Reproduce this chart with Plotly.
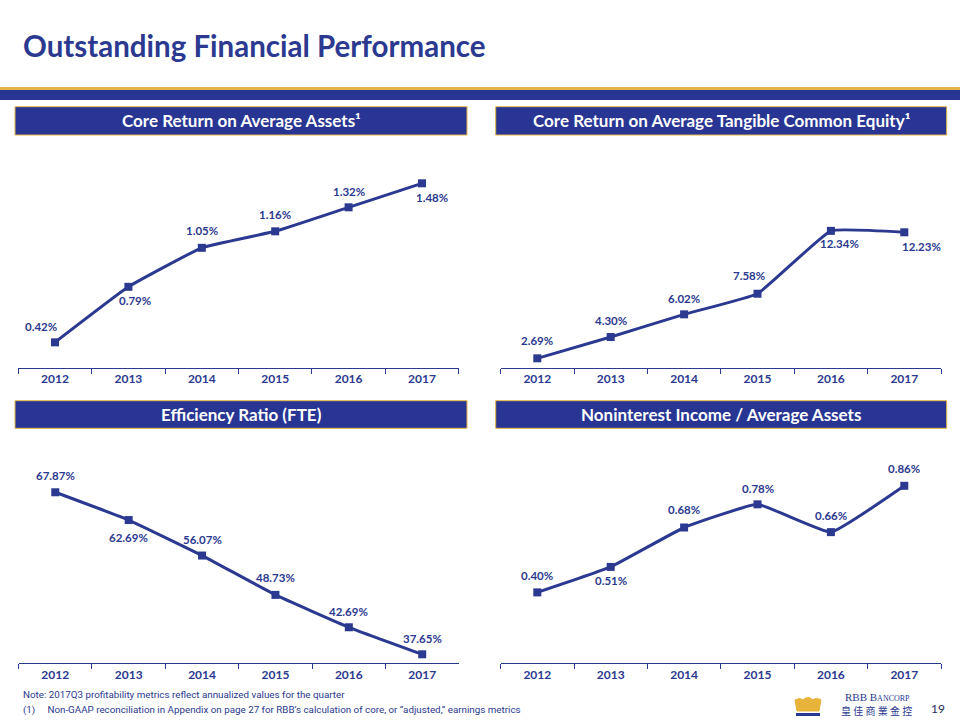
import plotly.graph_objects as go

years = ["2012", "2013", "2014", "2015", "2016", "2017"]
roaa = [0.42, 0.79, 1.05, 1.16, 1.32, 1.48]
roatce = [2.69, 4.30, 6.02, 7.58, 12.34, 12.23]
efficiency = [67.87, 62.69, 56.07, 48.73, 42.69, 37.65]
nonint = [0.40, 0.51, 0.68, 0.78, 0.66, 0.86]

titles = ["Core Return on Average Assets\u00b9",
          "Core Return on Average Tangible Common Equity\u00b9",
          "Efficiency Ratio (FTE)",
          "Noninterest Income / Average Assets"]

NAVY = "#2B3990"
FILL = "#283593"
GOLD = "#E3B547"
W, H = 960, 720

# label offsets (px) per point: (dx, dy) dy positive = up
offsets = [
    [(-14, 16), (7, -14), (0, 17), (0, 17), (0, 16), (10, -14)],
    [(0, 18), (0, 17), (0, 16), (-9, 18), (9, -13), (17, -14)],
    [(0, 17), (0, -17), (0, 16), (0, 17), (0, 16), (0, 16)],
    [(0, 17), (0, -14), (0, 18), (0, 16), (0, 17), (0, 17)],
]

series = [roaa, roatce, efficiency, nonint]
# panel pixel boxes: (left, right, top, bottom)
panels = [
    (18.3, 458.7, 150, 367.7),
    (500.6, 941.0, 150, 367.7),
    (18.6, 458.9, 445, 663.3),
    (500.6, 941.0, 445, 663.3),
]
yranges = [[0.251, 1.702], [1.98, 18.46], [35.97, 76.69], [0.094, 1.036]]
boxes = [
    (15, 467, 106.7, 135),
    (495.7, 946.7, 106.7, 135),
    (15, 467, 400.7, 428.3),
    (495.7, 946.7, 400.7, 428.3),
]

fig = go.Figure()
annotations = []
shapes = []

for i, (vals, (l, r, t, b), yr) in enumerate(zip(series, panels, yranges)):
    xa = "x" if i == 0 else f"x{i+1}"
    ya = "y" if i == 0 else f"y{i+1}"
    fig.add_trace(go.Scatter(
        x=years, y=vals, xaxis=xa, yaxis=ya, mode="lines+markers",
        line=dict(color=NAVY, width=3, shape="spline", smoothing=0.3),
        marker=dict(symbol="square", size=8, color=NAVY),
        cliponaxis=False, hoverinfo="skip", showlegend=False))
    xkey = "xaxis" if i == 0 else f"xaxis{i+1}"
    ykey = "yaxis" if i == 0 else f"yaxis{i+1}"
    fig.update_layout(**{
        xkey: dict(domain=[l / W, r / W], anchor=ya, type="category",
                   range=[-0.5, 5.5], showline=True, linecolor=NAVY, linewidth=1,
                   ticks="outside", tickson="boundaries", ticklen=5, tickcolor=NAVY,
                   showgrid=False, zeroline=False, fixedrange=True,
                   tickfont=dict(family="Lato", size=12, color=NAVY, weight="bold")),
        ykey: dict(domain=[1 - b / H, 1 - t / H], anchor=xa, range=yr,
                   visible=False, showgrid=False, zeroline=False, fixedrange=True),
    })
    for j, v in enumerate(vals):
        dx, dy = offsets[i][j]
        annotations.append(dict(x=j, y=v, xref=xa, yref=ya, text=f"{v:.2f}%",
                                showarrow=False, xshift=dx, yshift=dy,
                                font=dict(family="Lato", size=11.5, color=NAVY, weight="bold")))
    bl, br, bt, bb = boxes[i]
    shapes.append(dict(type="rect", xref="paper", yref="paper", x0=bl / W, x1=br / W,
                       y0=1 - bb / H, y1=1 - bt / H, fillcolor=FILL,
                       line=dict(color=GOLD, width=1), layer="above"))
    annotations.append(dict(x=(bl + br) / 2 / W, y=1 - (bt + bb) / 2 / H, xref="paper", yref="paper",
                            text=titles[i], showarrow=False, xanchor="center", yanchor="middle",
                            font=dict(family="Lato", size=17, color="white", weight="bold")))

# banner lines
shapes.append(dict(type="rect", xref="paper", yref="paper", x0=0, x1=1,
                   y0=1 - 90 / H, y1=1 - 87 / H, fillcolor=GOLD, line=dict(width=0)))
shapes.append(dict(type="rect", xref="paper", yref="paper", x0=0, x1=1,
                   y0=1 - 100 / H, y1=1 - 90 / H, fillcolor=FILL, line=dict(width=0)))

# title
annotations.append(dict(x=21 / W, y=1 - 45 / H, xref="paper", yref="paper",
                        text="Outstanding Financial Performance", showarrow=False,
                        xanchor="left", yanchor="middle",
                        font=dict(family="Lato", size=29.5, color=NAVY, weight="bold")))

# footnotes
annotations.append(dict(x=21 / W, y=1 - 694 / H, xref="paper", yref="paper",
                        text="Note: 2017Q3 profitability metrics reflect annualized values for the quarter",
                        showarrow=False, xanchor="left", yanchor="middle",
                        font=dict(family="Roboto", size=9.8, color=NAVY)))
annotations.append(dict(x=21 / W, y=1 - 710 / H, xref="paper", yref="paper",
                        text="(1)&nbsp;&nbsp;&nbsp;&nbsp;&nbsp;Non-GAAP reconciliation in Appendix on page 27 for RBB\u2019s calculation of core, or \u201cadjusted,\u201d earnings metrics",
                        showarrow=False, xanchor="left", yanchor="middle",
                        font=dict(family="Roboto", size=9.8, color=NAVY)))

# logo text
annotations.append(dict(x=877 / W, y=1 - 697 / H, xref="paper", yref="paper",
                        text="RBB B<span style='font-size:8px'>ANCORP</span>", showarrow=False,
                        xanchor="center", yanchor="middle",
                        font=dict(family="Liberation Serif", size=11, color=NAVY)))
annotations.append(dict(x=876 / W, y=1 - 710 / H, xref="paper", yref="paper",
                        text="皇 佳 商 業 金 控", showarrow=False,
                        xanchor="center", yanchor="middle",
                        font=dict(family="Noto Sans CJK TC", size=10, color=NAVY)))
annotations.append(dict(x=938 / W, y=1 - 708 / H, xref="paper", yref="paper",
                        text="19", showarrow=False, xanchor="center", yanchor="middle",
                        font=dict(family="Lato", size=12, color="#1F2A5C")))

# crown logo (decorative)
def px(x, y):
    return f"{x / W:.5f},{1 - y / H:.5f}"
crown = ("M " + px(797, 711) + " L " + px(795, 700) + " Q " + px(800, 697) + " " + px(803, 700)
         + " Q " + px(808, 695) + " " + px(813, 700) + " Q " + px(816, 697) + " " + px(821, 700)
         + " L " + px(819, 711) + " Z")
shapes.append(dict(type="path", xref="paper", yref="paper", path=crown,
                   fillcolor="#E8B33A", line=dict(color="#E8B33A", width=1)))
shapes.append(dict(type="rect", xref="paper", yref="paper", x0=796 / W, x1=820 / W,
                   y0=1 - 716 / H, y1=1 - 713 / H, fillcolor=NAVY, line=dict(width=0)))

fig.update_layout(width=W, height=H, margin=dict(l=0, r=0, t=0, b=0),
                  paper_bgcolor="white", plot_bgcolor="white",
                  annotations=annotations, shapes=shapes)

fig.write_html("out.html", config={"displayModeBar": False})
